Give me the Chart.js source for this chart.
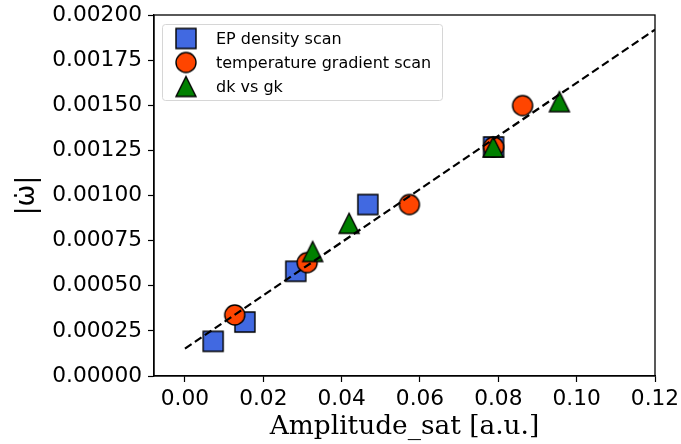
<!DOCTYPE html>
<html><head><meta charset="utf-8">
<script src="https://cdn.jsdelivr.net/npm/chart.js@4/dist/chart.umd.min.js"></script>
<style>html,body{margin:0;padding:0;background:#fff}</style>
</head><body>
<canvas id="c" width="681" height="444" style="width:681px;height:444px;display:block"></canvas>
<script>
// ---- data ----
const seriesLabels = ['EP density scan', 'temperature gradient scan', 'dk vs gk'];
const epX = [0.0072, 0.0153, 0.0283, 0.0467, 0.0788];
const epY = [0.000192, 0.000299, 0.000580, 0.000950, 0.001269];
const tgX = [0.0127, 0.0312, 0.0573, 0.0788, 0.0862];
const tgY = [0.000338, 0.000628, 0.000950, 0.001269, 0.001498];
const dkX = [0.0326, 0.0419, 0.0787, 0.0956];
const dkY = [0.000690, 0.000846, 0.001269, 0.001520];
const fitX = [0, 0.12];
const fitY = [0.000152, 0.001919];
const xTicks = [0.00, 0.02, 0.04, 0.06, 0.08, 0.10, 0.12];
const yTicks = [0, 0.00025, 0.0005, 0.00075, 0.001, 0.00125, 0.0015, 0.00175, 0.002];
const xTitle = 'Amplitude_sat [a.u.]';
const yTitle = '|ω\u0307|';

const pts = (xs, ys) => xs.map((x, i) => ({x, y: ys[i]}));

function marker(shape, fill) {
  const s = 26, c = document.createElement('canvas');
  c.width = s; c.height = s;
  const g = c.getContext('2d'), m = s / 2, h = 10;
  g.beginPath();
  if (shape === 'square') g.rect(m - h, m - h, 2 * h, 2 * h);
  else if (shape === 'circle') g.arc(m, m, h, 0, 2 * Math.PI);
  else { g.moveTo(m, m - h); g.lineTo(m + h, m + h); g.lineTo(m - h, m + h); g.closePath(); }
  g.fillStyle = fill; g.fill();
  g.lineWidth = 1.4; g.strokeStyle = '#000'; g.lineJoin = 'miter'; g.stroke();
  return c;
}
const mSquare = marker('square', '#4169E1');
const mCircle = marker('circle', '#FF4500');
const mTri = marker('triangle', '#008000');

const legendPlugin = {
  id: 'mplLegend',
  afterDraw(chart) {
    const ctx = chart.ctx, a = chart.chartArea;
    const x0 = a.left + 8.5, y0 = a.top + 9.5, w = 280, h = 76;
    ctx.save();
    ctx.beginPath();
    if (ctx.roundRect) ctx.roundRect(x0, y0, w, h, 3); else ctx.rect(x0, y0, w, h);
    ctx.fillStyle = 'rgba(255,255,255,0.8)'; ctx.fill();
    ctx.strokeStyle = '#d6d6d6'; ctx.lineWidth = 1; ctx.stroke();
    const sets = chart.data.datasets.filter(d => d.legend !== false);
    ctx.font = '16px "DejaVu Sans"'; ctx.fillStyle = '#000';
    ctx.textBaseline = 'middle'; ctx.textAlign = 'left';
    sets.forEach((d, i) => {
      const cy = a.top + 23.5 + i * 24;
      const img = d.pointStyle;
      ctx.drawImage(img, a.left + 32 - img.width / 2, cy - img.height / 2);
      ctx.fillText(d.label, a.left + 62, cy + 1);
    });
    ctx.restore();
  }
};
const framePlugin = {
  id: 'frame',
  afterDraw(chart) {
    const ctx = chart.ctx, a = chart.chartArea;
    ctx.save();
    ctx.strokeStyle = '#000'; ctx.lineWidth = 1.3;
    ctx.strokeRect(a.left, a.top, a.right - a.left, a.bottom - a.top);
    ctx.restore();
  }
};

const tickFont = {family: 'DejaVu Sans', size: 21.7};
new Chart(document.getElementById('c'), {
  type: 'scatter',
  data: {
    datasets: [
      {label: seriesLabels[0], data: pts(epX, epY), pointStyle: mSquare, order: 3},
      {label: seriesLabels[1], data: pts(tgX, tgY), pointStyle: mCircle, order: 2},
      {label: seriesLabels[2], data: pts(dkX, dkY), pointStyle: mTri, order: 1},
      {type: 'line', label: 'fit', legend: false, data: pts(fitX, fitY), borderColor: '#000',
       borderWidth: 2.2, borderDash: [8, 4], pointRadius: 0, fill: false, order: 0}
    ]
  },
  options: {
    responsive: false,
    devicePixelRatio: 1,
    animation: false,
    events: [],
    layout: {padding: {top: 15, right: 26, left: 0, bottom: 0}},
    plugins: {legend: {display: false}, tooltip: {enabled: false}},
    scales: {
      x: {
        type: 'linear', min: -0.0079, max: 0.12,
        afterBuildTicks: s => { s.ticks = xTicks.map(v => ({value: v})); },
        afterFit: s => { s.height = 68; s.paddingLeft = 0; s.paddingRight = 0; },
        ticks: {callback: v => Number(v).toFixed(2), font: tickFont, color: '#000', padding: 4,
                autoSkip: false, maxRotation: 0},
        grid: {drawOnChartArea: false, drawTicks: true, tickLength: 6, color: '#000', tickWidth: 1.2},
        border: {display: true, color: '#000', width: 1.3},
        title: {display: true, text: xTitle, font: {family: 'DejaVu Serif', size: 26.4}, color: '#000',
                padding: {top: 0, bottom: 1}}
      },
      y: {
        type: 'linear', min: 0, max: 0.002,
        afterBuildTicks: s => { s.ticks = yTicks.map(v => ({value: v})); },
        afterFit: s => { s.width = 154; s.paddingTop = 0; s.paddingBottom = 0; },
        ticks: {callback: v => Number(v).toFixed(5), font: tickFont, color: '#000', padding: 6,
                autoSkip: false},
        grid: {drawOnChartArea: false, drawTicks: true, tickLength: 6, color: '#000', tickWidth: 1.2},
        border: {display: true, color: '#000', width: 1.3},
        title: {display: true, text: yTitle, font: {family: 'DejaVu Sans', size: 26}, color: '#000',
                padding: {top: 12, bottom: 0}}
      }
    }
  },
  plugins: [legendPlugin, framePlugin]
});
</script>
</body></html>
